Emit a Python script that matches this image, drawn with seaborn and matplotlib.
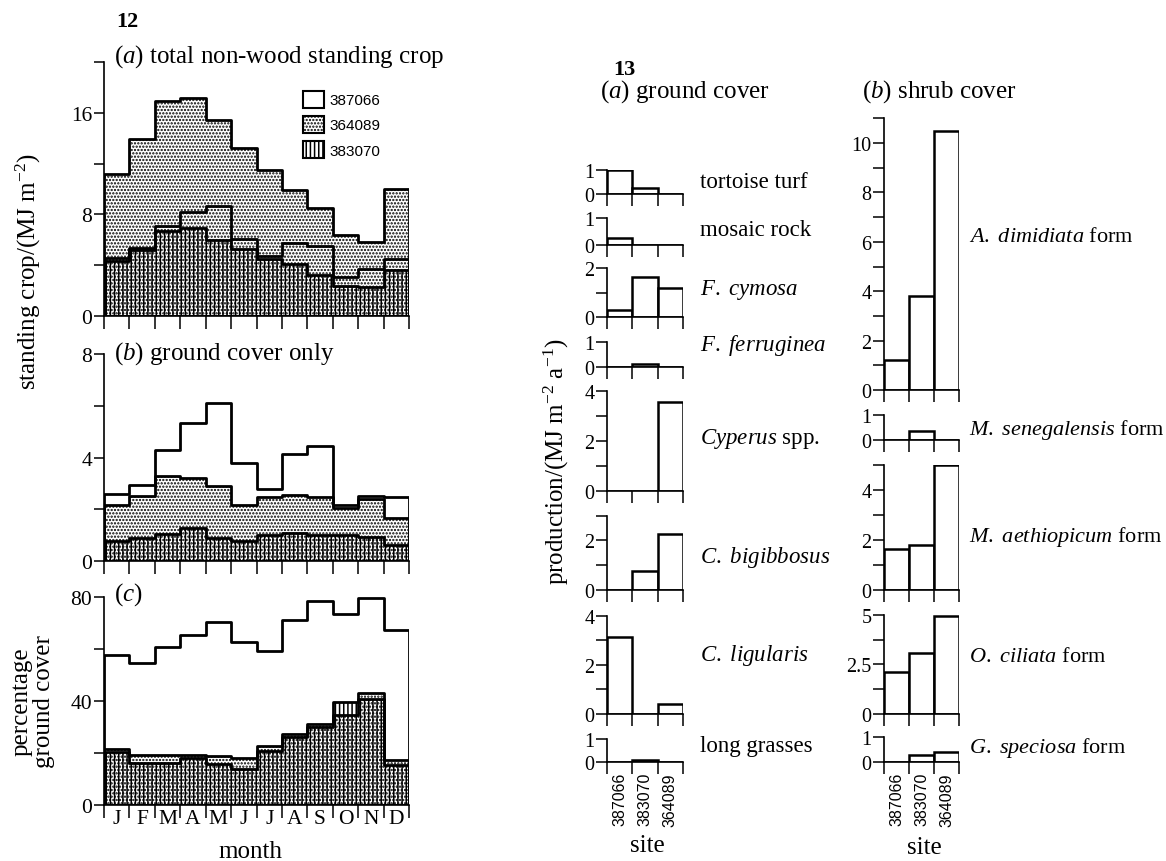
import numpy as np
import pandas as pd
import matplotlib
matplotlib.use("Agg")
import matplotlib.pyplot as plt
from matplotlib.patches import Patch
import seaborn as sns


# ---- data ----
months = ["J", "F", "M", "A", "M", "J", "J", "A", "S", "O", "N", "D"]

# 12(a) total non-wood standing crop / (MJ m-2)
total_387066 = [4.6, 5.35, 7.05, 8.2, 8.7, 6.1, 4.75, 5.75, 5.5, 3.05, 3.7, 4.5]
total_364089 = [11.2, 13.9, 16.9, 17.2, 15.4, 13.2, 11.5, 9.9, 8.5, 6.35, 5.8, 10.0]
total_383070 = [4.3, 5.2, 6.7, 6.9, 5.95, 5.25, 4.5, 4.1, 3.2, 2.4, 2.25, 3.6]

# 12(b) ground cover only
ground_387066 = [2.6, 2.93, 4.3, 5.35, 6.1, 3.8, 2.77, 4.15, 4.43, 2.18, 2.5, 2.48]
ground_364089 = [2.15, 2.5, 3.27, 3.19, 2.9, 2.18, 2.48, 2.57, 2.48, 2.05, 2.41, 1.68]
ground_383070 = [0.77, 0.89, 1.06, 1.26, 0.89, 0.77, 1.0, 1.09, 1.0, 1.0, 0.93, 0.6]

# 12(c) percentage ground cover
pct_387066 = [57.6, 54.7, 60.7, 65.3, 70.3, 62.7, 59.1, 71.1, 78.3, 73.5, 79.6, 67.3]
pct_364089 = [21.6, 19.3, 19.3, 19.3, 18.9, 18.0, 22.7, 27.3, 31.3, 34.7, 43.1, 17.3]
pct_383070 = [20.3, 16.0, 16.0, 18.0, 15.6, 14.0, 20.9, 26.0, 30.0, 39.7, 40.7, 15.3]

# 13 production / (MJ m-2 a-1), sites in plotted order
sites = ["387066", "383070", "364089"]

tortoise_turf = [1.0, 0.23, 0.0]
mosaic_rock = [0.24, 0.0, 0.0]
f_cymosa = [0.31, 1.65, 1.17]
f_ferruginea = [0.0, 0.12, 0.0]
cyperus_spp = [0.0, 0.0, 3.56]
c_bigibbosus = [0.0, 0.75, 2.25]
c_ligularis = [3.14, 0.0, 0.41]
long_grasses = [0.0, 0.1, 0.0]

a_dimidiata = [1.22, 3.8, 10.5]
m_senegalensis = [0.0, 0.34, 0.0]
m_aethiopicum = [1.65, 1.8, 4.97]
o_ciliata = [2.1, 3.07, 4.95]
g_speciosa = [0.0, 0.29, 0.4]


# ---- style ----
sns.set_style("ticks", rc={"axes.edgecolor": "black", "xtick.color": "black",
                           "ytick.color": "black", "text.color": "black",
                           "axes.labelcolor": "black"})
plt.rcParams["font.family"] = ["Liberation Serif", "DejaVu Serif"]
plt.rcParams["mathtext.fontset"] = "custom"
plt.rcParams["mathtext.rm"] = "Liberation Serif"
plt.rcParams["mathtext.it"] = "Liberation Serif:italic"
plt.rcParams["mathtext.bf"] = "Liberation Serif:bold"
plt.rcParams["hatch.linewidth"] = 1.1

W, H = 1166, 862
fig = plt.figure(figsize=(W / 100, H / 100), dpi=100)


def add_ax(x0, x1, ytop, ybot):
    return fig.add_axes([x0 / W, 1 - ybot / H, (x1 - x0) / W, (ybot - ytop) / H])


def ftext(x, y, s, **kw):
    fig.text(x / W, 1 - y / H, s, **kw)


DOTS = "....."
LINES = "||||"
SANS = ["Liberation Sans Narrow", "Liberation Sans"]


def step_panel(ax, v066, v089, v070, ymax, yticks, ylabels, show_months):
    df = pd.DataFrame({"m": np.arange(12), "s066": v066, "s089": v089, "s070": v070})
    # dotted 364089 underneath, hatched 383070 over it, 387066 outline on top
    for col, hatch in [("s089", DOTS), ("s070", LINES), ("s066", "")]:
        sns.histplot(data=df, x="m", weights=col, discrete=True, element="step",
                     fill=True, color="black", facecolor="none", edgecolor="black",
                     linewidth=2.0, hatch=hatch, alpha=1, ax=ax)
    ax.set_xlim(-0.5, 11.5)
    ax.set_ylim(0, ymax)
    ax.set_xlabel("")
    ax.set_ylabel("")
    ax.set_xticks(np.arange(13) - 0.5)
    ax.set_xticklabels([])
    ax.set_xticks(np.arange(12), minor=True)
    if show_months:
        ax.set_xticklabels(months, minor=True)
    else:
        ax.set_xticklabels([], minor=True)
    ax.set_yticks(yticks, labels=ylabels)
    ax.tick_params(axis="x", which="major", direction="out", length=9.5, width=1.1)
    ax.tick_params(axis="x", which="minor", length=0, pad=3, labelsize=15.5)
    ax.tick_params(axis="y", direction="out", length=7.5, width=1.1, labelsize=15.5, pad=1)
    sns.despine(ax=ax)
    for sp in ("left", "bottom"):
        ax.spines[sp].set_linewidth(1.2)


# ---- figure 12 ----
ax_a = add_ax(104, 409, 63, 317)
step_panel(ax_a, total_387066, total_364089, total_383070, 20,
           [0, 4, 8, 12, 16, 20], ["0", "", "8", "", "16", ""], False)
ax_b = add_ax(104, 409, 355, 562)
step_panel(ax_b, ground_387066, ground_364089, ground_383070, 8,
           [0, 2, 4, 6, 8], ["0", "", "4", "", "8"], False)
ax_c = add_ax(104, 409, 598, 806)
step_panel(ax_c, pct_387066, pct_364089, pct_383070, 80,
           [0, 20, 40, 60, 80], ["0", "", "40", "", "80"], True)

handles = [Patch(facecolor="none", edgecolor="black", linewidth=1.5, hatch=h)
           for h in ["", DOTS, LINES]]
ax_a.legend(handles, ["387066", "364089", "383070"], loc="upper left",
            bbox_to_anchor=(303 / W, 1 - 92 / H), bbox_transform=fig.transFigure,
            frameon=False, borderpad=0, borderaxespad=0, handlelength=1.35,
            handleheight=1.3, handletextpad=0.4, labelspacing=0.55,
            prop={"family": SANS, "size": 11})

ftext(116, 27, "12", fontsize=16, fontweight="bold")
ftext(114, 63, r"($\mathit{a}$) total non-wood standing crop", fontsize=18)
ftext(114, 360, r"($\mathit{b}$) ground cover only", fontsize=18)
ftext(114, 601, r"($\mathit{c}$)", fontsize=18)
ftext(28, 272, r"standing crop/(MJ m$^{-2}$)", fontsize=18, rotation=90,
      ha="center", va="center")
ftext(33, 702, "percentage\nground cover", fontsize=18, rotation=90,
      ha="center", va="center", multialignment="center", linespacing=1.05)
ftext(250, 852, "month", fontsize=18, ha="center", va="center")


# ---- figure 13 ----
def bar_panel(ax, vals, ymax, yticks, ylabels, bottom_row):
    df = pd.DataFrame({"site": sites, "value": vals})
    sns.barplot(data=df, x="site", y="value", order=sites, width=1.0, color="white",
                saturation=1, edgecolor="black", linewidth=1.8, errorbar=None, ax=ax)
    ax.set_xlim(-0.5, 2.5)
    ax.set_ylim(0, ymax)
    ax.set_xlabel("")
    ax.set_ylabel("")
    ax.set_xticks([-0.5, 0.5, 1.5, 2.5])
    ax.set_xticklabels([])
    ax.set_xticks([0, 1, 2], minor=True)
    if bottom_row:
        ax.set_xticklabels(sites, minor=True, rotation=90, va="top",
                           family=SANS, fontsize=11.5)
    else:
        ax.set_xticklabels([], minor=True)
    ax.set_yticks(yticks, labels=ylabels)
    ax.tick_params(axis="x", which="major", direction="out", length=8.5, width=1.1)
    ax.tick_params(axis="x", which="minor", length=0, pad=7)
    ax.tick_params(axis="y", direction="out", length=8, width=1.1, labelsize=14.5, pad=1)
    sns.despine(ax=ax)
    for sp in ("left", "bottom"):
        ax.spines[sp].set_linewidth(1.2)


ground_panels = [
    (tortoise_turf, 170.7, 195, 1, [0, 1], ["0", "1"], "tortoise turf", 182),
    (mosaic_rock, 219.3, 245.7, 1, [0, 1], ["0", "1"], "mosaic rock", 230),
    (f_cymosa, 269, 318.3, 2, [0, 1, 2], ["0", "", "2"], r"$\mathit{F.\ cymosa}$", 290),
    (f_ferruginea, 343.3, 368.3, 1, [0, 1], ["0", "1"], r"$\mathit{F.\ ferruginea}$", 345),
    (cyperus_spp, 391.7, 491.7, 4, [0, 1, 2, 3, 4], ["0", "", "2", "", "4"],
     r"$\mathit{Cyperus}$ spp.", 439),
    (c_bigibbosus, 516.7, 591, 3, [0, 1, 2, 3], ["0", "", "2", ""],
     r"$\mathit{C.\ bigibbosus}$", 558),
    (c_ligularis, 616.7, 715, 4, [0, 1, 2, 3, 4], ["0", "", "2", "", "4"],
     r"$\mathit{C.\ ligularis}$", 656),
    (long_grasses, 740, 763.3, 1, [0, 1], ["0", "1"], "long grasses", 747),
]
shrub_panels = [
    (a_dimidiata, 119.3, 391, 11, list(range(12)),
     ["0", "", "2", "", "4", "", "6", "", "8", "", "10", ""],
     r"$\mathit{A.\ dimidiata}$ form", 237),
    (m_senegalensis, 416, 440.7, 1, [0, 1], ["0", "1"],
     r"$\mathit{M.\ senegalensis}$ form", 430),
    (m_aethiopicum, 465.7, 591, 5, [0, 1, 2, 3, 4, 5], ["0", "", "2", "", "4", ""],
     r"$\mathit{M.\ aethiopicum}$ form", 537),
    (o_ciliata, 615.7, 715, 5, [0, 1.25, 2.5, 3.75, 5], ["0", "", "2.5", "", "5"],
     r"$\mathit{O.\ ciliata}$ form", 658),
    (g_speciosa, 738.3, 763.3, 1, [0, 1], ["0", "1"],
     r"$\mathit{G.\ speciosa}$ form", 748),
]

for i, (vals, top, bot, ymax, ticks, labs, name, ly) in enumerate(ground_panels):
    ax = add_ax(607, 683, top, bot)
    bar_panel(ax, vals, ymax, ticks, labs, i == len(ground_panels) - 1)
    ftext(700, ly, name, fontsize=16.5, va="center")

for i, (vals, top, bot, ymax, ticks, labs, name, ly) in enumerate(shrub_panels):
    ax = add_ax(884, 959, top, bot)
    bar_panel(ax, vals, ymax, ticks, labs, i == len(shrub_panels) - 1)
    ftext(969, ly, name, fontsize=16, va="center")

ftext(613, 75, "13", fontsize=16, fontweight="bold")
ftext(600, 98, r"($\mathit{a}$) ground cover", fontsize=18)
ftext(862, 98, r"($\mathit{b}$) shrub cover", fontsize=18)
ftext(556, 462, r"production/(MJ m$^{-2}$ a$^{-1}$)", fontsize=18, rotation=90,
      ha="center", va="center")
ftext(647, 846, "site", fontsize=18, ha="center", va="center")
ftext(924, 848, "site", fontsize=18, ha="center", va="center")

fig.savefig("out.png", dpi=100)
